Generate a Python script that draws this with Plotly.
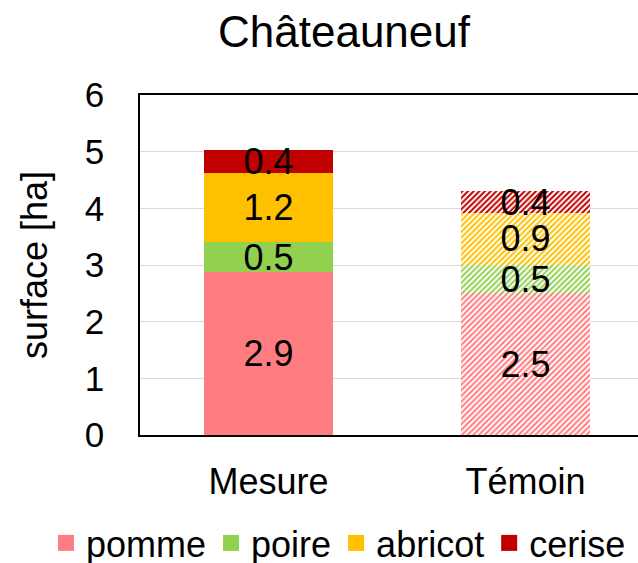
import plotly.graph_objects as go

# data
categories = ["Mesure", "Témoin"]
pomme = [2.88, 2.50]
poire = [0.52, 0.50]
abricot = [1.22, 0.92]
cerise = [0.41, 0.38]

series = [
    ("pomme", pomme, "#ff7c80"),
    ("poire", poire, "#92d050"),
    ("abricot", abricot, "#ffc000"),
    ("cerise", cerise, "#c00000"),
]

FONT = "Liberation Sans, Arial, sans-serif"
W = 800  # wider than the window: the right side is cropped like the reference
PL, PR, PT, PB = 140, 654, 95, 435  # plot area in pixels

fig = go.Figure()
for name, vals, color in series:
    fig.add_trace(go.Bar(
        x=categories,
        y=vals,
        name=name,
        legendgroup=name,
        showlegend=False,
        marker=dict(
            color=color,
            line=dict(width=0),
            # Témoin bars are hatched
            pattern=dict(shape=["", "/"], size=4, solidity=0.5,
                         fgcolor=color, bgcolor="white", fgopacity=1),
        ),
        texttemplate="%{y:.1f}",
        textposition="inside",
        insidetextanchor="middle",
        textangle=0,
        constraintext="none",
        textfont=dict(size=36, color="black", family=FONT),
        hoverinfo="skip",
    ))

# legend entries with bigger square swatches
for name, vals, color in series:
    fig.add_trace(go.Scatter(
        x=[categories[0]], y=[None],
        mode="markers",
        name=name,
        legendgroup=name,
        marker=dict(symbol="square", size=16, color=color),
        hoverinfo="skip",
    ))

fig.update_layout(
    width=W,
    height=563,
    barmode="stack",
    bargap=0.5,
    paper_bgcolor="white",
    plot_bgcolor="white",
    font=dict(family=FONT, color="black"),
    margin=dict(l=PL, r=W - PR, t=PT, b=563 - PB, autoexpand=False),
    title=dict(
        text="Châteauneuf",
        font=dict(size=44, color="black"),
        x=344 / W, xanchor="center",
        y=1 - 32 / 563, yanchor="middle",
    ),
    legend=dict(
        orientation="h",
        x=(46 - PL) / (PR - PL), xanchor="left",
        y=(PB - 543) / (PB - PT), yanchor="middle",
        font=dict(size=36),
        traceorder="normal",
    ),
    showlegend=True,
)

fig.update_yaxes(
    range=[0, 6],
    dtick=1,
    showgrid=True,
    gridcolor="#d9d9d9",
    gridwidth=1.3,
    showline=True,
    linecolor="black",
    linewidth=1.5,
    zeroline=False,
    ticks="",
    ticklabelstandoff=27,
    tickfont=dict(size=35),
    automargin=False,
    title=dict(text="surface [ha]", font=dict(size=36), standoff=26),
)
fig.update_xaxes(
    showline=True,
    linecolor="black",
    linewidth=1.5,
    mirror=True,
    ticks="",
    ticklabelstandoff=14,
    tickfont=dict(size=36),
    automargin=False,
)

fig.write_html(
    "out.html",
    config={"displayModeBar": False},
    post_script="document.body.style.margin='0';"
                "document.body.style.overflow='hidden';"
                "document.documentElement.style.overflow='hidden';",
)
